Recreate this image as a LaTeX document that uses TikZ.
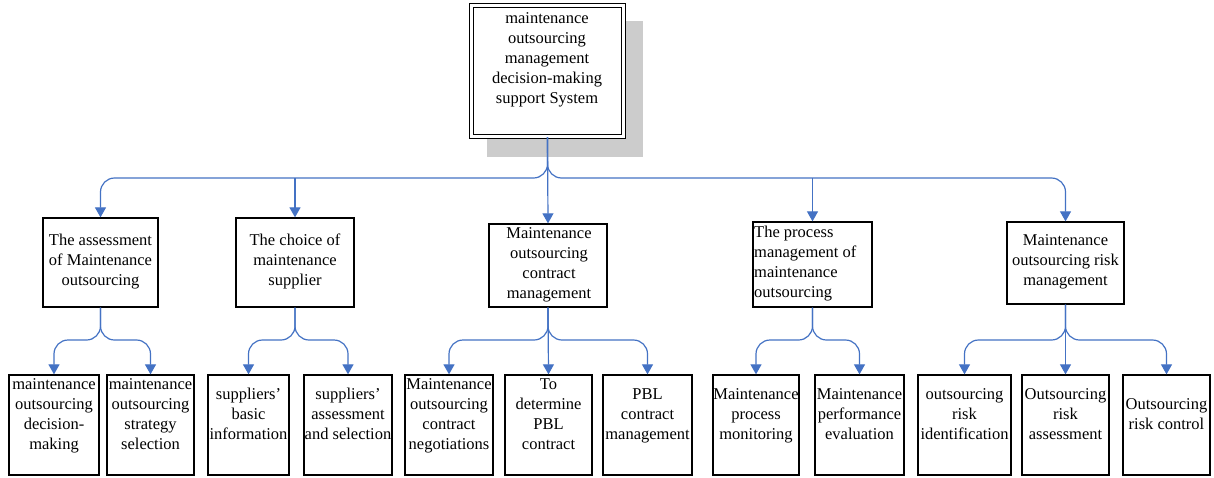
\documentclass[tikz,border=0pt]{standalone}
\usepackage{fontspec}
\setmainfont{Liberation Serif}
\usetikzlibrary{arrows.meta}
\definecolor{linkblue}{RGB}{68,114,196}
\definecolor{shadowgray}{RGB}{204,204,204}
\begin{document}
\begin{tikzpicture}[x=1pt,y=-1pt,
  box/.style={draw=black, line width=1.3pt, rectangle, inner sep=0pt, fill=white},
  lbl/.style={font=\fontsize{16.5}{20}\selectfont, align=center, inner sep=0pt,
    execute at begin node=\strut, execute at end node=\strut},
  conn/.style={draw=linkblue, line width=1.2pt, rounded corners=14pt,
    -{Triangle[length=10pt,width=11pt]}}]
\useasboundingbox (0,0) rectangle (1214,477);
\fill[white] (0,0) rectangle (1214,477);
% shadow of the top box
\fill[shadowgray] (487,21) rectangle (643,157);
% top box
\node[box, double, double distance=2.2pt, line width=1.2pt, minimum width=152pt, minimum height=131pt] (top) at (547.5,71) {};
\node[lbl] (topt) at (547,61) {maintenance\\outsourcing\\management\\decision-making\\support System};
% level 1
\node[box, minimum width=115pt, minimum height=89pt] (B1) at (100.5,262.5) {};
\node[lbl] (B1t) at (100.5,263) {The assessment\\of Maintenance\\outsourcing};
\node[box, minimum width=118pt, minimum height=89pt] (B2) at (295,262.5) {};
\node[lbl] (B2t) at (295,263) {The choice of\\maintenance\\supplier};
\node[box, minimum width=118pt, minimum height=83pt] (B3) at (548,265.5) {};
\node[lbl] (B3t) at (549,266) {Maintenance\\outsourcing\\contract\\management};
\node[box, minimum width=119pt, minimum height=85pt] (B4) at (812.5,264.5) {};
\node[lbl, align=left, anchor=west] (B4t) at (754,265) {The process\\management of\\maintenance\\outsourcing};
\node[box, minimum width=117pt, minimum height=82pt] (B5) at (1065.5,263) {};
\node[lbl] (B5t) at (1065.5,263) {Maintenance\\outsourcing risk\\management};
% level 2
\node[box, minimum width=90pt, minimum height=100pt] (b11) at (54,425) {};
\node[lbl] (b11t) at (54,417) {maintenance\\outsourcing\\decision-\\making};
\node[box, minimum width=87pt, minimum height=100pt] (b12) at (150.5,425) {};
\node[lbl] (b12t) at (150.5,417) {maintenance\\outsourcing\\strategy\\selection};
\node[box, minimum width=81pt, minimum height=100pt] (b21) at (248.5,425) {};
\node[lbl] (b21t) at (248.5,417) {suppliers’\\basic\\information};
\node[box, minimum width=88pt, minimum height=100pt] (b22) at (348,425) {};
\node[lbl] (b22t) at (348,417) {suppliers’\\assessment\\and selection};
\node[box, minimum width=88pt, minimum height=100pt] (b31) at (449,425) {};
\node[lbl] (b31t) at (449,417) {Maintenance\\outsourcing\\contract\\negotiations};
\node[box, minimum width=87pt, minimum height=100pt] (b32) at (548.5,425) {};
\node[lbl] (b32t) at (548.5,417) {To\\determine\\PBL\\contract};
\node[box, minimum width=89pt, minimum height=100pt] (b33) at (647.5,425) {};
\node[lbl] (b33t) at (647.5,417) {PBL\\contract\\management};
\node[box, minimum width=86pt, minimum height=100pt] (b41) at (756,425) {};
\node[lbl] (b41t) at (756,417) {Maintenance\\process\\monitoring};
\node[box, minimum width=89pt, minimum height=100pt] (b42) at (859.5,425) {};
\node[lbl] (b42t) at (859.5,417) {Maintenance\\performance\\evaluation};
\node[box, minimum width=93pt, minimum height=100pt] (b51) at (964.5,425) {};
\node[lbl] (b51t) at (964.5,417) {outsourcing\\risk\\identification};
\node[box, minimum width=87pt, minimum height=100pt] (b52) at (1065.5,425) {};
\node[lbl] (b52t) at (1065.5,417) {Outsourcing\\risk\\assessment};
\node[box, minimum width=87pt, minimum height=100pt] (b53) at (1166.5,425) {};
\node[lbl] (b53t) at (1166.5,417) {Outsourcing\\risk control};
% junction levels
\coordinate (h1) at (547,178);
\coordinate (h2) at (0,340);
\coordinate (j2) at (B2.north |- h1);
\coordinate (j4) at (B4.north |- h1);
% level-1 connectors
\draw[conn] (top.south) |- (B1.north |- h1) -- (B1.north);
\draw[conn] (j2) -- (B2.north);
\draw[conn] (top.south) -- (B3.north);
\draw[conn] (j4) -- (B4.north);
\draw[conn] (top.south) |- (B5.north |- h1) -- (B5.north);
% level-2 connectors
\draw[conn] (B1.south) |- (b11.north |- h2) -- (b11.north);
\draw[conn] (B1.south) |- (b12.north |- h2) -- (b12.north);
\draw[conn] (B2.south) |- (b21.north |- h2) -- (b21.north);
\draw[conn] (B2.south) |- (b22.north |- h2) -- (b22.north);
\draw[conn] (B3.south) |- (b31.north |- h2) -- (b31.north);
\draw[conn] (B3.south) -- (b32.north);
\draw[conn] (B3.south) |- (b33.north |- h2) -- (b33.north);
\draw[conn] (B4.south) |- (b41.north |- h2) -- (b41.north);
\draw[conn] (B4.south) |- (b42.north |- h2) -- (b42.north);
\draw[conn] (B5.south) |- (b51.north |- h2) -- (b51.north);
\draw[conn] (B5.south) -- (b52.north);
\draw[conn] (B5.south) |- (b53.north |- h2) -- (b53.north);
\end{tikzpicture}
\end{document}
